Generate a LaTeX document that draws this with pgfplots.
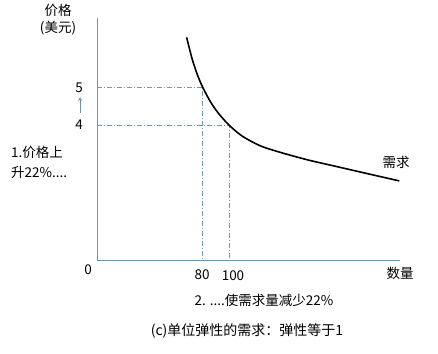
\documentclass[border=0pt]{standalone}
\usepackage{fontspec}
\setmainfont{Noto Sans CJK SC}
\usepackage{pgfplots}
\pgfplotsset{compat=1.18}
\definecolor{axiscol}{RGB}{110,148,176}
\definecolor{dashcol}{RGB}{120,152,178}
\begin{document}
\begin{tikzpicture}[every node/.style={font=\fontsize{13.5bp}{15bp}\selectfont, inner sep=0pt}]
\useasboundingbox[fill=white] (0,0) rectangle (438bp,-354bp);
\begin{axis}[at={(97bp,-260bp)}, anchor=south west,
  width=303bp, height=242bp, scale only axis,
  xmin=0, xmax=229.5, ymin=0.447, ymax=6.82,
  axis lines=left, axis line style={-, draw=axiscol, line width=1bp},
  xtick=\empty, ytick=\empty, clip=false]
\addplot[dashcol, line width=0.6bp, dash pattern=on 5bp off 2bp on 1bp off 2bp] coordinates {(0,5) (80,5) (80,0.447)};
\addplot[dashcol, line width=0.6bp, dash pattern=on 5bp off 2bp on 1bp off 2bp] coordinates {(0,4) (100,4) (100,0.447)};
\addplot[black, line width=1.6bp, smooth, tension=0.5] coordinates {
(67.9,6.31) (72,5.75) (76,5.33) (80,5.0) (86,4.61) (92,4.31) (100,4.0) (110,3.71) (124,3.45) (140,3.27) (160,3.08) (180,2.92) (205,2.72) (229,2.53)};
\end{axis}
\node at (58bp,-10bp) {价格};
\node at (58bp,-28bp) {(美元)};
\node at (79bp,-88bp) {5};
\node at (79bp,-125bp) {4};
\draw[axiscol, line width=0.8bp, -stealth] (80bp,-113bp) -- (80bp,-97bp);
\node[anchor=west] at (11bp,-152bp) {1.价格上};
\node[anchor=west] at (11bp,-172bp) {升22\%....};
\node at (88bp,-270bp) {0};
\node at (202bp,-275bp) {80};
\node at (233bp,-276bp) {100};
\node at (400bp,-273bp) {数量};
\node at (396bp,-162bp) {需求};
\node at (264bp,-300bp) {2. ....使需求量减少22\%};
\node[font=\fontsize{14bp}{16bp}\selectfont] at (247bp,-331bp) {(c)单位弹性的需求：弹性等于1};
\end{tikzpicture}
\end{document}
